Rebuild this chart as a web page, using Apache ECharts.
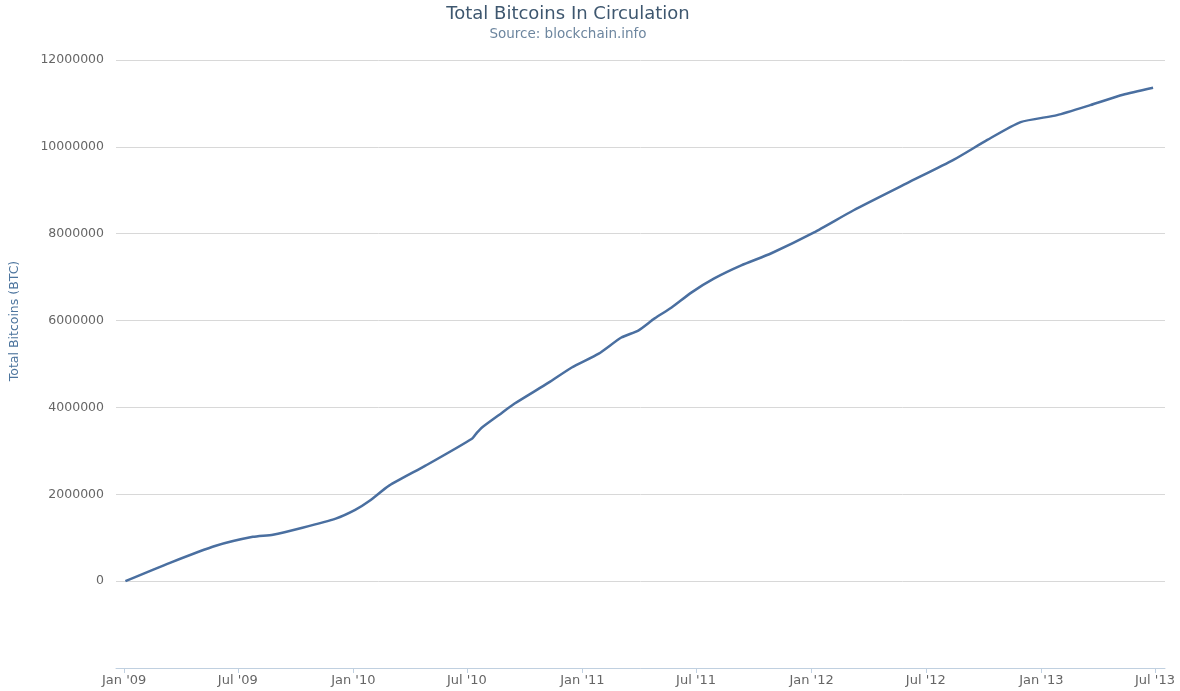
<!DOCTYPE html>
<html>
<head>
<meta charset="utf-8">
<title>Total Bitcoins In Circulation</title>
<script src="https://cdn.jsdelivr.net/npm/echarts@6/dist/echarts.min.js"></script>
<style>
  html, body { margin: 0; padding: 0; background: #fff; }
  #grafico { width: 1180px; height: 691px; }
</style>
</head>
<body>
<div id="grafico"></div>
<script>
// dates and totals
var dates = [
  '2009-01-03', '2009-03-15', '2009-05-27', '2009-07-25', '2009-08-26',
  '2009-10-12', '2009-12-04', '2010-01-04', '2010-01-27', '2010-02-27',
  '2010-04-26', '2010-07-09', '2010-07-17', '2010-07-25', '2010-08-26',
  '2010-09-15', '2010-11-08', '2010-12-15', '2011-01-27', '2011-03-04',
  '2011-03-31', '2011-04-26', '2011-05-23', '2011-06-24', '2011-07-30',
  '2011-09-11', '2011-10-29', '2012-01-05', '2012-03-08', '2012-06-02',
  '2012-08-14', '2012-10-07', '2012-11-29', '2013-01-26', '2013-03-20',
  '2013-05-11', '2013-06-28'
];
var totals = [
  0, 422000, 814000, 1020000, 1070000,
  1230000, 1440000, 1640000, 1850000, 2200000,
  2660000, 3280000, 3420000, 3540000, 3880000,
  4090000, 4570000, 4920000, 5240000, 5610000,
  5770000, 6050000, 6300000, 6650000, 6970000,
  7270000, 7550000, 8030000, 8540000, 9170000,
  9700000, 10160000, 10570000, 10730000, 10960000,
  11200000, 11360000
];
var tickDates = [
  '2009-01-01', '2009-07-01', '2010-01-01', '2010-07-01', '2011-01-01',
  '2011-07-01', '2012-01-01', '2012-07-01', '2013-01-01', '2013-07-01'
];
var months = ['Jan', 'Feb', 'Mar', 'Apr', 'May', 'Jun', 'Jul', 'Aug', 'Sep', 'Oct', 'Nov', 'Dec'];

function toTime(d) { return Date.UTC(+d.slice(0, 4), +d.slice(5, 7) - 1, +d.slice(8, 10)); }

var tickTimes = tickDates.map(toTime);
var points = dates.map(function (d, i) { return [toTime(d), totals[i]]; });

var chartDom = document.getElementById('grafico');
var myChart = echarts.init(chartDom);
var option;
option = {
  animation: false,
  textStyle: { fontFamily: 'DejaVu Sans' },
  title: {
    text: 'Total Bitcoins In Circulation',
    subtext: 'Source: blockchain.info',
    left: 563,
    top: 0,
    textAlign: 'center',
    itemGap: 4,
    textStyle: { fontSize: 18, fontWeight: 'normal', color: '#3E576F' },
    subtextStyle: { fontSize: 13.5, color: '#6D869F' }
  },
  grid: { left: 113, right: 15, top: 60, bottom: 23 },
  xAxis: {
    type: 'value',
    min: toTime('2008-12-19'),
    max: toTime('2013-07-17'),
    axisLine: { onZero: false, lineStyle: { color: '#C0D0E0', width: 1 } },
    axisTick: { show: true, length: 5, customValues: tickTimes, lineStyle: { color: '#C0D0E0' } },
    splitLine: { show: false },
    axisLabel: {
      customValues: tickTimes,
      margin: 6,
      fontSize: 13,
      color: '#666',
      formatter: function (v) {
        var d = new Date(v);
        return months[d.getUTCMonth()] + " '" + String(d.getUTCFullYear()).slice(2);
      }
    }
  },
  yAxis: {
    type: 'value',
    min: -2000000,
    max: 12000000,
    interval: 2000000,
    name: 'Total Bitcoins (BTC)',
    nameLocation: 'middle',
    nameGap: 95,
    nameTextStyle: { fontSize: 12.5, color: '#4d759e', padding: [0, 0, 0, 86] },
    axisLine: { show: false },
    axisTick: { show: false },
    splitLine: { lineStyle: { color: '#d8d8d8', width: 1 } },
    axisLabel: {
      margin: 12,
      fontSize: 12.5,
      color: '#666',
      formatter: function (v) { return v < 0 ? '' : String(v); }
    }
  },
  series: [
    {
      name: 'Total Bitcoins',
      type: 'line',
      data: points,
      showSymbol: false,
      smooth: 0.2,
      lineStyle: { color: '#4a6fa0', width: 2.5 },
      itemStyle: { color: '#4a6fa0' }
    }
  ]
};

option && myChart.setOption(option);
</script>
</body>
</html>
